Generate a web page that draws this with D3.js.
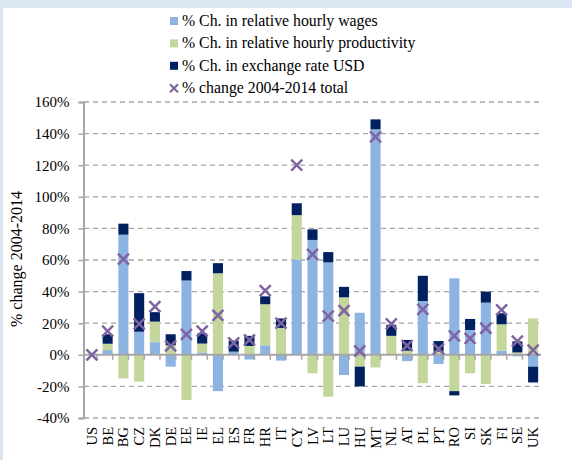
<!DOCTYPE html>
<meta charset="utf-8">
<style>
body { margin: 0; background: #fff; }
svg text { font-family: "Times New Roman", "Liberation Serif", Tinos, "DejaVu Serif", serif !important; }
.grid line { stroke: #a6a6a6; stroke-dasharray: 5,4; stroke-width: 1.3; }
</style>
<svg width="572" height="460"></svg>
<script src="https://cdn.jsdelivr.net/npm/d3@7"></script>
<script>

var countries = ["US","BE","BG","CZ","DK","DE","EE","IE","EL","ES","FR","HR","IT","CY","LV","LT","LU","HU","MT","NL","AT","PL","PT","RO","SI","SK","FI","SE","UK"];

var wages = [0, 3, 76, 14.6, 8, -7.5, 47, 1.5, -23, 2, -3, 6, -3.7, 60.4, 72.7, 58.5, -12.8, 26.6, 142.7, 0, -4, 34, -5.8, 48.4, 15.7, 33, 2.6, -1, -7.5];
var productivity = [0, 4, -15, -17, 13, 6, -28.6, 5.6, 51.6, 0, 5.6, 26, 17, 28, -11.7, -26.5, 36.4, -7.5, -8, 12, 2.6, -18, 2, -23, -11.7, -18.5, 16.7, 1.5, 23];
var exchange = [0, 6, 7, 24.4, 6, 7, 6, 6.4, 6.4, 7, 6.4, 5, 6, 7.5, 6.7, 6.5, 6.6, -12.5, 6.3, 7, 6.8, 16, 6.7, -2.7, 7, 7, 7, 7, -10];
var total = [0, 15, 60.6, 19.5, 30.5, 5.6, 13, 15, 25, 7.6, 9.4, 40.6, 20, 120, 63.6, 24.5, 28, 2.4, 138, 19.5, 5.8, 28.8, 3.7, 12, 10.4, 16.8, 28.4, 8.7, 3];

var yTicks = [-40, -20, 0, 20, 40, 60, 80, 100, 120, 140, 160];

var seriesNames = ["wages", "productivity", "exchange"];
var seriesColors = {wages: "#8db3e2", productivity: "#c3d69b", exchange: "#002060"};
var legendLabels = [
	"% Ch. in relative hourly wages",
	"% Ch. in relative hourly productivity",
	"% Ch. in exchange rate USD",
	"% change 2004-2014 total"
];

var rows = countries.map(function(c, i) {
	return {country: c, wages: wages[i], productivity: productivity[i], exchange: exchange[i], total: total[i]};
});

var svg = d3.select("svg");

// frame
svg.append("rect").attr("x", 0).attr("y", 0).attr("width", 572).attr("height", 8).attr("fill", "#dce6f2");
svg.append("rect").attr("x", 0).attr("y", 0).attr("width", 3).attr("height", 460).attr("fill", "#dce6f2");

var x = d3.scaleBand().domain(countries).range([84, 541]).paddingInner(0.36).paddingOuter(0.18),
	y = d3.scaleLinear().domain([-40, 160]).range([418, 102]);

// gridlines
svg.append("g").attr("class", "grid")
	.selectAll("line")
	.data(yTicks.filter(function(d) { return d !== 0; }))
	.enter().append("line")
		.attr("x1", 84).attr("x2", 541)
		.attr("y1", function(d) { return y(d); })
		.attr("y2", function(d) { return y(d); });

// stacked bars
var stack = d3.stack().keys(seriesNames).offset(d3.stackOffsetDiverging);
var layers = stack(rows);

svg.append("g")
	.selectAll("g")
	.data(layers)
	.enter().append("g")
		.attr("fill", function(d) { return seriesColors[d.key]; })
	.selectAll("rect")
	.data(function(d) { return d; })
	.enter().append("rect")
		.attr("x", function(d) { return x(d.data.country); })
		.attr("width", x.bandwidth())
		.attr("y", function(d) { return y(Math.max(d[0], d[1])); })
		.attr("height", function(d) { return Math.abs(y(d[0]) - y(d[1])); });

// y axis
var yAxis = d3.axisLeft(y).tickValues(yTicks).tickSize(5).tickPadding(9)
	.tickFormat(function(d) { return d + "%"; });
var gy = svg.append("g").attr("transform", "translate(83.5,0)").call(yAxis);
gy.select(".domain").attr("stroke", "#a6a6a6").attr("stroke-width", 2);
gy.selectAll(".tick line").attr("stroke", "#a6a6a6").attr("stroke-width", 1.5);
gy.selectAll(".tick text").attr("font-size", 15).attr("fill", "#000");

// zero line with category ticks
svg.append("line")
	.attr("x1", 84).attr("x2", 541)
	.attr("y1", y(0)).attr("y2", y(0))
	.attr("stroke", "#a6a6a6").attr("stroke-width", 2);
svg.append("g")
	.selectAll("line")
	.data(countries.slice(1))
	.enter().append("line")
		.attr("x1", function(d) { return x(d) - x.bandwidth() * 0.56; })
		.attr("x2", function(d) { return x(d) - x.bandwidth() * 0.56; })
		.attr("y1", y(0)).attr("y2", y(0) + 5)
		.attr("stroke", "#a6a6a6").attr("stroke-width", 1.5);

// markers
var mk = 5.5;
svg.append("g")
	.selectAll("path")
	.data(rows)
	.enter().append("path")
		.attr("d", function(d) {
			var cx = x(d.country) + x.bandwidth() / 2, cy = y(d.total);
			return "M" + (cx - mk) + "," + (cy - mk) + "L" + (cx + mk) + "," + (cy + mk) +
				"M" + (cx - mk) + "," + (cy + mk) + "L" + (cx + mk) + "," + (cy - mk);
		})
		.attr("stroke", "#8064a2").attr("stroke-width", 2.5).attr("fill", "none");

// category labels
svg.append("g")
	.selectAll("text")
	.data(countries)
	.enter().append("text")
		.attr("transform", function(d) {
			return "translate(" + (x(d) + x.bandwidth() / 2 + 5) + ",427) rotate(-90)";
		})
		.attr("text-anchor", "end")
		.attr("font-size", 14.5)
		.text(function(d) { return d; });

// y title
svg.append("text")
	.attr("transform", "translate(22,259) rotate(-90)")
	.attr("text-anchor", "middle")
	.attr("font-size", 16)
	.text("% change 2004-2014");

// legend
var legend = svg.append("g")
	.selectAll("g")
	.data(legendLabels)
	.enter().append("g")
		.attr("transform", function(d, i) { return "translate(170," + (21 + i * 22.4) + ")"; });

legend.each(function(d, i) {
	var g = d3.select(this);
	if (i < 3) {
		g.append("rect").attr("x", 0).attr("y", -4).attr("width", 8).attr("height", 8)
			.attr("fill", seriesColors[seriesNames[i]]);
	} else {
		g.append("path").attr("d", "M0,-4L8,4M0,4L8,-4")
			.attr("stroke", "#8064a2").attr("stroke-width", 2.2).attr("fill", "none");
	}
	g.append("text").attr("x", 12).attr("y", 5).attr("font-size", 15.8).text(d);
});

</script>
